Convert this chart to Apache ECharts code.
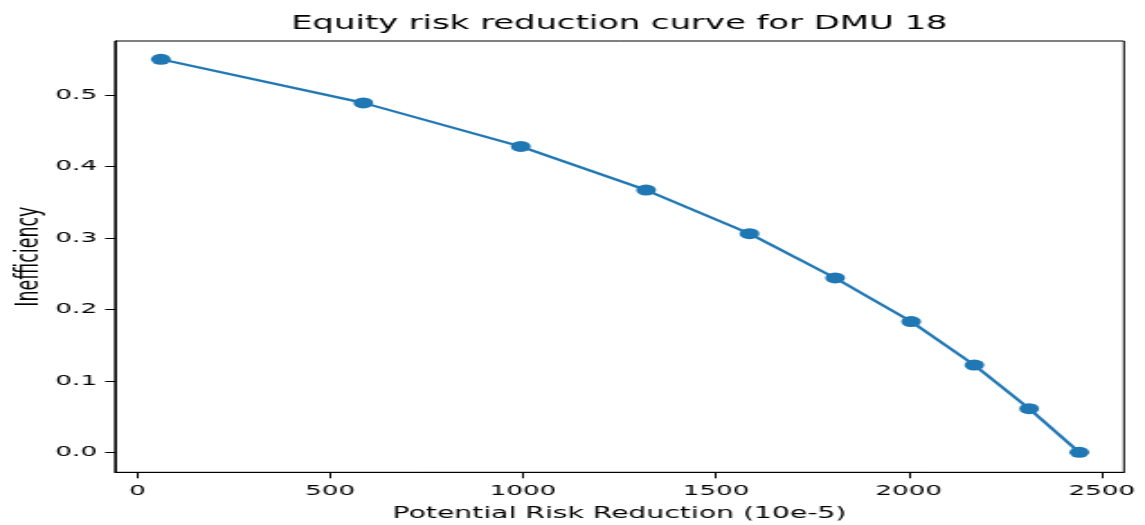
<!DOCTYPE html>
<html>
<head>
<meta charset="utf-8">
<script src="https://cdn.jsdelivr.net/npm/echarts@6/dist/echarts.min.js"></script>
<style>
  html, body { margin: 0; padding: 0; background: #fff; overflow: hidden; }
  #main { width: 636px; height: 525px; transform: scaleX(1.80031); transform-origin: 0 0; }
</style>
</head>
<body>
<div id="main"></div>
<script>
// Data
const riskReduction = [61, 586, 994, 1319, 1587, 1809, 2006, 2170, 2312, 2442];
const inefficiency = [0.55, 0.489, 0.428, 0.367, 0.306, 0.244, 0.183, 0.122, 0.061, 0.0];
const xTickValues = [0, 500, 1000, 1500, 2000, 2500];
const yTickValues = [0.0, 0.1, 0.2, 0.3, 0.4, 0.5];

const titleText = 'Equity risk reduction curve for DMU 18';
const xAxisTitle = 'Potential Risk Reduction (10e-5)';
const yAxisTitle = 'Inefficiency';

const points = riskReduction.map((x, i) => [x, inefficiency[i]]);

const chart = echarts.init(document.getElementById('main'), null, { renderer: 'canvas' });
const font = 'DejaVu Sans';
chart.setOption({
  animation: false,
  backgroundColor: '#ffffff',
  title: {
    text: titleText,
    left: 339,
    textAlign: 'center',
    top: 10,
    textStyle: { fontFamily: font, fontSize: 18.8, fontWeight: 'normal', color: '#000' }
  },
  grid: {
    left: 63.88, right: 11.7, top: 41, bottom: 52.7,
    containLabel: false,
    outerBoundsMode: 'none',
    show: true, borderColor: '#000', borderWidth: 1, backgroundColor: 'transparent'
  },
  xAxis: {
    type: 'value',
    min: -57.8,
    max: 2557.8,
    name: xAxisTitle,
    nameLocation: 'middle',
    nameGap: 34,
    nameTextStyle: { fontFamily: font, fontSize: 15.7, color: '#000' },
    axisLine: { show: true, onZero: false, lineStyle: { color: '#000', width: 1 } },
    axisTick: { show: true, inside: false, length: 6, lineStyle: { color: '#000' }, customValues: xTickValues },
    axisLabel: { fontFamily: font, fontSize: 14.5, color: '#000', margin: 11, customValues: xTickValues,
      formatter: v => String(v) },
    splitLine: { show: false }
  },
  yAxis: {
    type: 'value',
    min: -0.028,
    max: 0.5756,
    name: yAxisTitle,
    nameLocation: 'middle',
    nameGap: 38,
    nameMoveOverlap: false,
    nameRotate: 90,
    nameTextStyle: { fontFamily: font, fontSize: 17.5, color: '#000' },
    axisLine: { show: true, onZero: false, lineStyle: { color: '#000', width: 1 } },
    axisTick: { show: true, inside: false, length: 5.5, lineStyle: { color: '#000' }, customValues: yTickValues },
    axisLabel: { fontFamily: font, fontSize: 14.5, color: '#000', margin: 10, customValues: yTickValues,
      formatter: v => v.toFixed(1) },
    splitLine: { show: false }
  },
  series: [{
    type: 'line',
    data: points,
    symbol: 'circle',
    symbolSize: 11,
    showSymbol: true,
    lineStyle: { color: '#1f77b4', width: 2.2 },
    itemStyle: { color: '#1f77b4' },
    clip: false
  }]
});
</script>
</body>
</html>
